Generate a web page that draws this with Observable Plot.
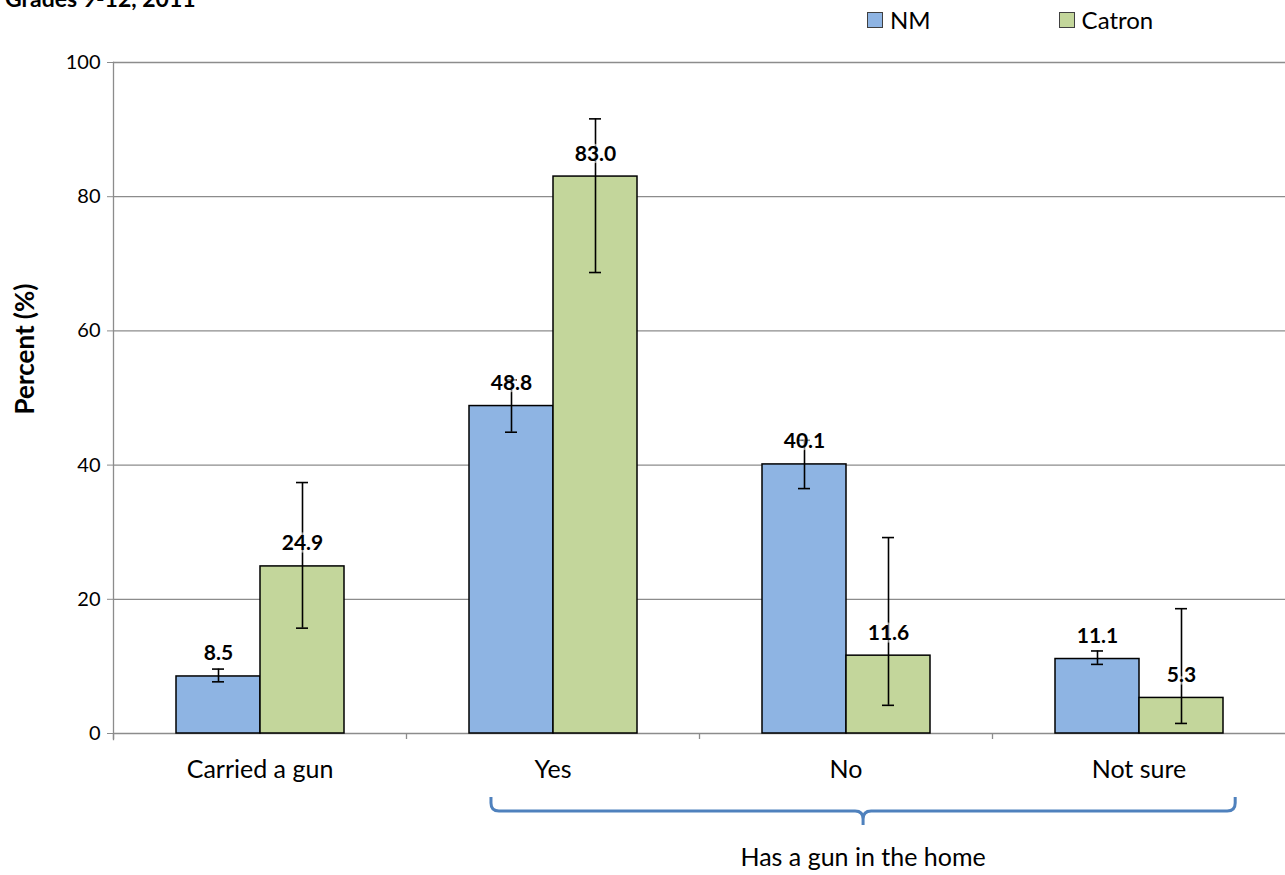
<!DOCTYPE html>
<html>
<head>
<meta charset="utf-8">
<script src="https://cdn.jsdelivr.net/npm/d3@7"></script>
<script src="https://cdn.jsdelivr.net/npm/@observablehq/plot@0.6"></script>
<style>
  html, body { margin: 0; padding: 0; background: white; overflow: hidden; }
  #wrap { position: relative; width: 1285px; height: 875px; font-family: Lato, "Open Sans", sans-serif; color: black; }
  #title { position: absolute; left: 5px; top: -13px; font-weight: bold; font-size: 23px; line-height: 23px; white-space: nowrap; }
  #legend { position: absolute; top: 5px; left: 867px; font-size: 24px; display: flex; }
  .li { display: flex; align-items: center; }
  .sw { width: 14px; height: 14px; border: 1px solid #404040; margin-right: 7px; }
  #chart { position: absolute; left: 0; top: 0; }
</style>
</head>
<body>
<div id="wrap">
  <div id="chart"></div>
  <div id="title">Grades 9-12, 2011</div>
  <div id="legend"></div>
</div>
<script>
const categories = ["Carried a gun", "Yes", "No", "Not sure"];
const series = ["NM", "Catron"];
const nmValues = [8.5, 48.8, 40.1, 11.1];
const nmLow = [7.7, 44.9, 36.5, 10.3];
const nmHigh = [9.6, 52.7, 43.7, 12.3];
const catronValues = [24.9, 83.0, 11.6, 5.3];
const catronLow = [15.7, 68.7, 4.2, 1.5];
const catronHigh = [37.4, 91.6, 29.2, 18.6];
const yTicks = [0, 20, 40, 60, 80, 100];
const colors = ["#8EB4E3", "#C3D69B"];
const yLabel = "Percent (%)";
const bracketLabel = "Has a gun in the home";
const bracketFrom = "Yes";
const bracketTo = "Not sure";

const data = [];
categories.forEach((c, i) => {
  data.push({category: c, series: "NM", value: nmValues[i], low: nmLow[i], high: nmHigh[i]});
  data.push({category: c, series: "Catron", value: catronValues[i], low: catronLow[i], high: catronHigh[i]});
});

const W = 1285, H = 875, mL = 113, mR = 0, mT = 62, mB = 142;
const halfBand = (W - mL - mR) / categories.length / 2;

const chart = Plot.plot({
  width: W, height: H,
  marginLeft: mL, marginRight: mR, marginTop: mT, marginBottom: mB,
  style: {fontFamily: "Lato, 'Open Sans', sans-serif", fontSize: "20px", color: "black", background: "white", overflow: "visible"},
  fx: {domain: categories, paddingInner: 0, paddingOuter: 0, axis: null},
  x: {domain: series, paddingInner: 0, paddingOuter: 0.744, axis: null},
  y: {domain: [0, 100], axis: null},
  color: {domain: series, range: colors},
  marks: [
    Plot.ruleY(yTicks, {stroke: "#8c8c8c", strokeWidth: 1.3}),
    Plot.barY(data, {fx: "category", x: "series", y: "value", fill: "series", stroke: "black", strokeWidth: 1.5}),
    Plot.ruleX(data, {fx: "category", x: "series", y1: "low", y2: "high", stroke: "black", strokeWidth: 1.6}),
    Plot.tickY(data, {fx: "category", x: "series", y: "low", stroke: "black", strokeWidth: 1.6, insetLeft: 36, insetRight: 36}),
    Plot.tickY(data, {fx: "category", x: "series", y: "high", stroke: "black", strokeWidth: 1.6, insetLeft: 36, insetRight: 36}),
    Plot.text(data, {fx: "category", x: "series", y: "value", text: d => d.value.toFixed(1),
      lineAnchor: "bottom", dy: -16, fontWeight: "bold", fontSize: 21, fill: "black",
      stroke: "white", strokeOpacity: 0.55, strokeWidth: 5}),
    Plot.axisY({ticks: yTicks, tickSize: 6, tickPadding: 7, stroke: "#8c8c8c", fontSize: 20, label: null}),
    Plot.text([yLabel], {text: d => d, frameAnchor: "left", facetAnchor: "left", textAnchor: "middle", rotate: -90, dx: -88, dy: -49,
      fontWeight: "bold", fontSize: 26, fill: "black"}),
    Plot.frame({anchor: "left", facetAnchor: "left", stroke: "#8c8c8c", strokeWidth: 1.3, insetBottom: -6}),
    Plot.axisFx({anchor: "bottom", tickSize: 0, tickPadding: 27, label: null, fontSize: 25}),
    Plot.axisFx({anchor: "bottom", tickSize: 6, tickFormat: () => "", label: null, stroke: "#8c8c8c", strokeWidth: 1.3, dx: -halfBand})
  ]
});
document.getElementById("chart").appendChild(chart);

// bracket annotation using the fx scale
const fxs = chart.scale("fx");
const step = (fxs.range[1] - fxs.range[0]) / fxs.domain.length;
const bandStart = c => fxs.range[0] + fxs.domain.indexOf(c) * step;
const bx1 = bandStart(bracketFrom) + 0.29 * step;
const bx2 = bandStart(bracketTo) + 0.83 * step;
const bmid = (bx1 + bx2) / 2;
const ys = chart.scale("y");
const base = ys.range[0];
const bTop = base + 64, bMid = base + 78, bTip = base + 92, r = 8;
const g = d3.select(chart).append("g");
g.append("path")
  .attr("fill", "none").attr("stroke", "#4F81BD").attr("stroke-width", 3)
  .attr("d", `M${bx1},${bTop} V${bMid - r} Q${bx1},${bMid} ${bx1 + r},${bMid} H${bmid - r} Q${bmid},${bMid} ${bmid},${bMid + r} V${bTip} M${bmid},${bMid + r} Q${bmid},${bMid} ${bmid + r},${bMid} H${bx2 - r} Q${bx2},${bMid} ${bx2},${bMid - r} V${bTop}`);
g.append("text")
  .attr("x", bmid).attr("y", base + 133).attr("text-anchor", "middle")
  .attr("font-size", 25).attr("font-family", "Lato, 'Open Sans', sans-serif").attr("fill", "black")
  .text(bracketLabel);

// legend
const legend = d3.select("#legend");
series.forEach((s, i) => {
  const item = legend.append("div").attr("class", "li").style("margin-right", i === 0 ? "128px" : "0");
  item.append("div").attr("class", "sw").style("background", colors[i]);
  item.append("span").text(s);
});
</script>
</body>
</html>
